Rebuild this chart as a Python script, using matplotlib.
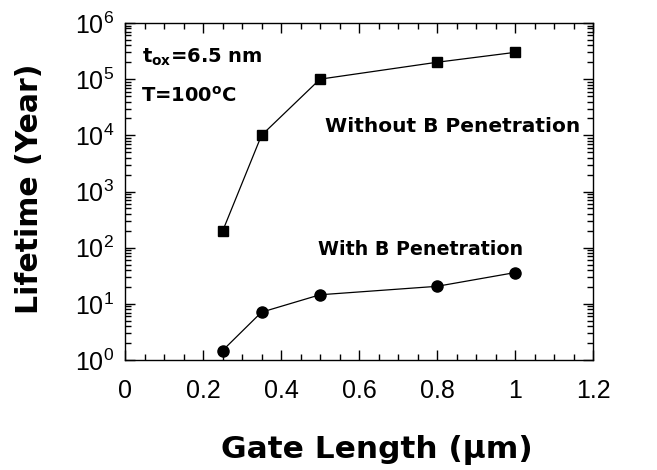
import matplotlib
matplotlib.use("Agg")
import matplotlib.pyplot as plt
from matplotlib.ticker import MultipleLocator, LogLocator, NullFormatter

plt.rcParams['font.family'] = ['Liberation Sans', 'DejaVu Sans']
plt.rcParams['mathtext.fontset'] = 'custom'
plt.rcParams['mathtext.rm'] = 'DejaVu Sans:bold'
plt.rcParams['mathtext.bf'] = 'DejaVu Sans:bold'

gate_length = [0.25, 0.35, 0.5, 0.8, 1.0]
lifetime_without = [195, 1.0e4, 1.0e5, 2.0e5, 3.0e5]
lifetime_with = [1.47, 7.1, 14.5, 20.5, 36]
x_ticks = [0, 0.2, 0.4, 0.6, 0.8, 1.0, 1.2]
x_tick_labels = ['0', '0.2', '0.4', '0.6', '0.8', '1', '1.2']

W, H = 657, 470
fig = plt.figure(figsize=(W / 100, H / 100), dpi=100)
# axes box in pixels: left 125, right 593, top 23, bottom 360
ax = fig.add_axes([125 / W, (H - 360) / H, 468 / W, 337 / H])

ax.plot(gate_length, lifetime_without, color='black', lw=0.9, marker='s', ms=7.5)
ax.plot(gate_length, lifetime_with, color='black', lw=0.9, marker='o', ms=8)

ax.set_yscale('log')
ax.set_xlim(0, 1.2)
ax.set_ylim(1, 1e6)

ax.set_xticks(x_ticks)
ax.set_xticklabels(x_tick_labels)
ax.xaxis.set_minor_locator(MultipleLocator(0.05))
ax.yaxis.set_major_locator(LogLocator(base=10, numticks=10))
ax.yaxis.set_minor_locator(LogLocator(base=10, subs=range(2, 10), numticks=20))
ax.yaxis.set_minor_formatter(NullFormatter())

ax.tick_params(which='both', direction='in', top=True, right=True, labelsize=18, width=1)
ax.tick_params(which='major', length=7, pad=8)
ax.tick_params(which='minor', length=4)
ax.tick_params(axis='x', pad=14)
for s in ax.spines.values():
    s.set_linewidth(1.0)

bold = dict(family='DejaVu Sans', fontweight='bold')
fig.text(376.5 / W, (H - 458) / H, 'Gate Length (\u03bcm)', fontsize=22.5,
         ha='center', va='baseline', **bold)
fig.text(30 / W, (H - 189) / H, 'Lifetime (Year)', fontsize=21.5, rotation=90,
         ha='center', va='center', **bold)

def axfrac(px, py):
    return (px - 125) / 468, (360 - py) / 337

ax.text(*axfrac(142, 63), r'$\mathbf{t_{ox}}$=6.5 nm', transform=ax.transAxes,
        fontsize=14, va='baseline', **bold)
ax.text(*axfrac(141, 102), r'T=100$\mathbf{^{o}}$C', transform=ax.transAxes,
        fontsize=14, va='baseline', **bold)
ax.text(*axfrac(325, 132), 'Without B Penetration', transform=ax.transAxes,
        fontsize=14.5, va='baseline', **bold)
ax.text(*axfrac(318, 255), 'With B Penetration', transform=ax.transAxes,
        fontsize=13.7, va='baseline', **bold)

fig.savefig('out.png', dpi=100)
